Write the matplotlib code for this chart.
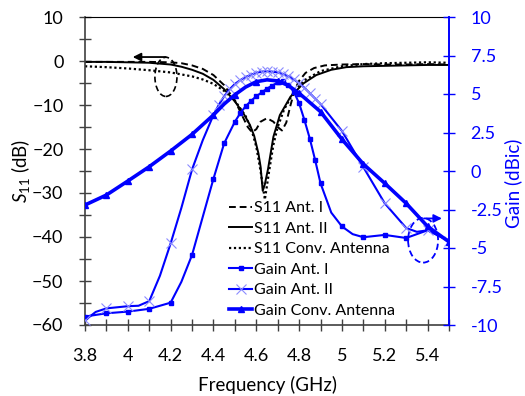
import matplotlib
matplotlib.use("Agg")
import matplotlib.pyplot as plt
from matplotlib.patches import Ellipse
from matplotlib.ticker import MultipleLocator

plt.rcParams['font.family'] = ['Lato', 'DejaVu Sans']
plt.rcParams['mathtext.fontset'] = 'custom'
plt.rcParams['mathtext.rm'] = 'Lato'
plt.rcParams['mathtext.it'] = 'Lato:italic'

# ---------------- data ----------------
# S11 (dB)
f_s11_I = [3.8, 3.9, 4.0, 4.1, 4.2, 4.25, 4.3, 4.35, 4.4, 4.45, 4.5, 4.53, 4.56, 4.58, 4.6, 4.62,
           4.65, 4.68, 4.7, 4.72, 4.74, 4.76, 4.78, 4.8, 4.83, 4.87, 4.92, 5.0, 5.1, 5.2, 5.3, 5.4, 5.5]
s11_I = [-0.2, -0.2, -0.2, -0.2, -0.3, -0.5, -1.0, -1.8, -3.2, -5.5, -9.0, -12.0, -15.0, -16.2, -15.5, -13.8,
         -13.0, -13.8, -15.0, -15.8, -14.0, -10.0, -6.5, -4.5, -2.7, -1.6, -1.0, -0.8, -0.7, -0.8, -0.8, -0.7, -0.8]

f_s11_II = [3.8, 3.9, 4.0, 4.1, 4.2, 4.25, 4.3, 4.35, 4.4, 4.45, 4.5, 4.54, 4.57, 4.59, 4.61, 4.62, 4.63,
            4.64, 4.655, 4.68, 4.71, 4.76, 4.82, 4.88, 4.95, 5.02, 5.1, 5.2, 5.3, 5.4, 5.5]
s11_II = [-0.2, -0.2, -0.3, -0.4, -0.8, -1.3, -2.0, -2.9, -4.3, -6.4, -9.2, -11.9, -14.5, -17.0, -21.0, -24.0, -29.5,
          -28.0, -24.5, -17.2, -12.3, -8.1, -5.1, -3.2, -2.0, -1.4, -1.2, -1.1, -1.0, -0.9, -0.9]

f_s11_C = [3.8, 3.9, 4.0, 4.1, 4.2, 4.3, 4.35, 4.4, 4.45, 4.5, 4.55, 4.58, 4.6, 4.62, 4.64,
           4.66, 4.68, 4.7, 4.73, 4.77, 4.82, 4.9, 5.0, 5.1, 5.2, 5.3, 5.4, 5.5]
s11_C = [-1.2, -1.4, -1.7, -2.1, -2.6, -3.5, -4.2, -5.2, -6.8, -9.0, -12.5, -16.0, -19.5, -25.0, -31.5,
         -25.0, -19.0, -15.0, -11.0, -7.5, -4.5, -2.3, -1.2, -0.7, -0.5, -0.4, -0.3, -0.4]

# Gain (dBic)
f_gain_I = [3.8, 3.9, 4.0, 4.1, 4.2, 4.25, 4.3, 4.4, 4.45, 4.5, 4.525, 4.55, 4.575, 4.6, 4.625, 4.65,
            4.675, 4.7, 4.725, 4.75, 4.775, 4.8, 4.825, 4.85, 4.875, 4.9, 4.95, 5.0, 5.05, 5.1, 5.2, 5.3, 5.4, 5.5]
gain_I = [-9.45, -9.24, -9.13, -8.95, -8.55, -7.2, -5.45, -0.5, 1.8, 3.2, 3.75, 4.2, 4.55, 4.85, 5.1, 5.35,
          5.55, 5.75, 5.82, 5.58, 5.15, 4.4, 3.3, 2.1, 0.7, -0.8, -2.7, -3.6, -4.1, -4.3, -4.15, -4.35, -3.85, -4.5]
marks_I = [0, 1, 2, 3, 4, 6, 7, 8, 9, 10, 11, 12, 13, 14, 15, 16, 17, 18, 19, 20, 21, 22, 23, 24, 25,
           27, 29, 30, 31]

f_gain_II = [3.8, 3.85, 3.9, 4.0, 4.05, 4.1, 4.15, 4.2, 4.25, 4.3, 4.35, 4.4, 4.425, 4.45, 4.475, 4.5,
             4.525, 4.55, 4.575, 4.6, 4.625, 4.65, 4.675, 4.7, 4.725, 4.75, 4.775, 4.8, 4.825, 4.85,
             4.875, 4.9, 5.0, 5.1, 5.2, 5.3, 5.35, 5.4, 5.5]
gain_II = [-9.7, -9.15, -8.92, -8.78, -8.75, -8.45, -6.8, -4.7, -2.4, 0.1, 2.0, 3.64, 4.3, 4.85, 5.3, 5.65,
           5.9, 6.1, 6.25, 6.38, 6.45, 6.48, 6.45, 6.4, 6.3, 6.15, 5.95, 5.7, 5.4, 5.05,
           4.7, 4.35, 2.6, 0.25, -2.1, -3.7, -3.95, -3.85, -4.55]
marks_II = [0, 2, 3, 5, 7, 9, 11, 12, 13, 14, 15, 16, 17, 18, 19, 20, 21, 22, 23, 24, 25, 26, 27, 28, 29,
            30, 31, 32, 33, 34, 35, 37, 38]

f_gain_C = [3.8, 3.9, 4.0, 4.1, 4.2, 4.3, 4.4, 4.45, 4.5, 4.55, 4.6, 4.65, 4.7, 4.75, 4.8, 4.9,
            5.0, 5.1, 5.2, 5.3, 5.4, 5.5]
gain_C = [-2.21, -1.56, -0.65, 0.28, 1.3, 2.38, 3.64, 4.35, 4.95, 5.45, 5.8, 5.92, 5.85, 5.55, 5.05, 3.85,
          2.06, 0.45, -0.8, -2.1, -3.6, -4.6]
marks_C = [0, 1, 2, 3, 4, 5, 6, 8, 10, 12, 14, 15, 16, 17, 18, 19, 20, 21]

xticks = [3.8, 4.0, 4.2, 4.4, 4.6, 4.8, 5.0, 5.2, 5.4]
xticklabels = ['3.8', '4', '4.2', '4.4', '4.6', '4.8', '5', '5.2', '5.4']
left_ticks = [10, 0, -10, -20, -30, -40, -50, -60]
right_ticks = [10, 7.5, 5, 2.5, 0, -2.5, -5, -7.5, -10]
right_ticklabels = ['10', '7.5', '5', '2.5', '0', '-2.5', '-5', '-7.5', '-10']

BLUE = '#0000ff'

fig = plt.figure(figsize=(5.25, 3.96), dpi=100)
ax1 = fig.add_axes([85/525, 1-325/396, (449-85)/525, (325-17)/396])
ax2 = ax1.twinx()

# S11 curves
l1, = ax1.plot(f_s11_I, s11_I, color='black', lw=1.4, ls=(0, (3.5, 2)), label='S11 Ant. I')
l2, = ax1.plot(f_s11_II, s11_II, color='black', lw=1.4, ls='-', label='S11 Ant. II')
l3, = ax1.plot(f_s11_C, s11_C, color='black', lw=1.6, ls=(0, (1, 1.2)), label='S11 Conv. Antenna')

# Gain curves
l4, = ax2.plot(f_gain_I, gain_I, color=BLUE, lw=1.5, marker='s', ms=3.5, markevery=marks_I,
               label='Gain Ant. I')
l5, = ax2.plot(f_gain_II, gain_II, color=BLUE, lw=1.5, marker='x', ms=7.5, mew=0.8,
               mec='#8c8cff', markevery=marks_II, label='Gain Ant. II')
l6, = ax2.plot(f_gain_C, gain_C, color=BLUE, lw=2.6, marker='^', ms=5, markevery=marks_C,
               label='Gain Conv. Antenna')

ax1.set_xlim(3.8, 5.5)
ax1.set_ylim(-60, 10)
ax2.set_ylim(-10, 10)

ax1.set_xticks(xticks)
ax1.set_xticklabels(xticklabels)
ax1.xaxis.set_minor_locator(MultipleLocator(0.1))
ax1.set_yticks(left_ticks)
ax1.yaxis.set_minor_locator(MultipleLocator(5))
ax2.set_yticks(right_ticks)
ax2.set_yticklabels(right_ticklabels)

ax1.tick_params(axis='both', which='both', direction='inout', length=9, width=1, labelsize=13,
                color='#404040')
ax1.tick_params(axis='x', which='major', pad=12)
ax1.tick_params(axis='y', which='major', pad=11)
ax2.tick_params(axis='y', which='both', direction='inout', length=9, width=1, labelsize=13,
                color=BLUE, labelcolor=BLUE, pad=11)

for s in ['left', 'bottom']:
    ax1.spines[s].set_color('#404040')
    ax1.spines[s].set_linewidth(1.2)
ax1.spines['top'].set_color('black')
ax1.spines['right'].set_visible(False)
ax2.spines['right'].set_color(BLUE)
ax2.spines['right'].set_linewidth(1.4)
ax2.spines['left'].set_visible(False)
ax2.spines['top'].set_visible(False)
ax2.spines['bottom'].set_visible(False)

ax1.set_xlabel('Frequency (GHz)', fontsize=13.5)
ax1.set_ylabel(r'$S_{11}$ (dB)', fontsize=13.5)
ax2.set_ylabel('Gain (dBic)', fontsize=13.5, color=BLUE)

# annotations: ellipses and arrows
e1 = Ellipse((4.178, -3.6), 0.103, 8.9, fill=False, ls=(0, (3.5, 2)), lw=1.2, ec='black')
ax1.add_patch(e1)
ax1.annotate('', xy=(4.01, 0.9), xytext=(4.19, 0.9),
             arrowprops=dict(arrowstyle='-|>', color='black', lw=1.3, mutation_scale=12))
e2 = Ellipse((5.379, -4.5), 0.14, 2.9, fill=False, ls=(0, (3.5, 2)), lw=1.3, ec=BLUE)
ax2.add_patch(e2)
ax2.annotate('', xy=(5.48, -3.08), xytext=(5.37, -3.08),
             arrowprops=dict(arrowstyle='-|>', color=BLUE, lw=1.3, mutation_scale=12))

leg = ax2.legend(handles=[l1, l2, l3, l4, l5, l6], loc='upper left',
                 bbox_to_anchor=(229/525, 1-201/396), bbox_transform=fig.transFigure,
                 frameon=False, fontsize=11.5, handlelength=1.45, handletextpad=0.1,
                 labelspacing=0.4, borderpad=0, borderaxespad=0)

ax1.xaxis.set_label_coords(0.5, -0.165)
ax1.yaxis.set_label_coords(-0.145, 0.5)
ax2.yaxis.set_label_coords(1.152, 0.46)

fig.savefig('out.png', dpi=100)
